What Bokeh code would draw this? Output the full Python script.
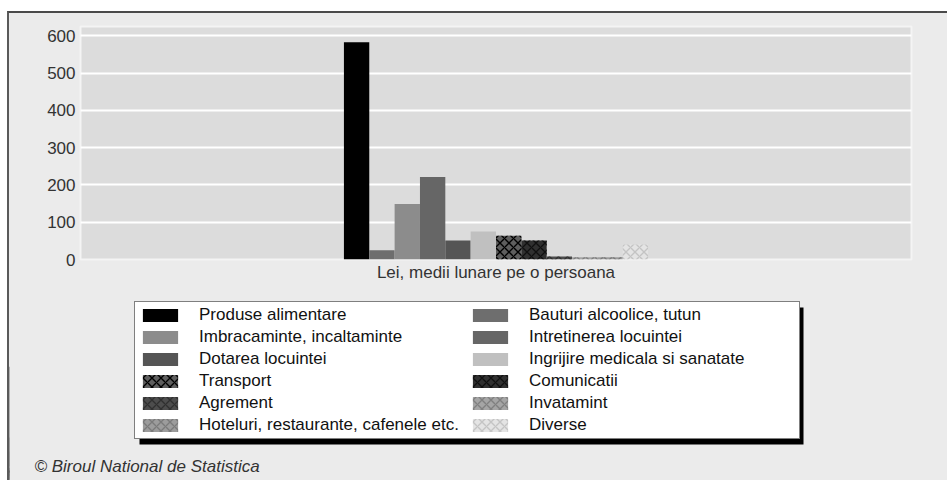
from bokeh.plotting import figure
from bokeh.layouts import column
from bokeh.models import (FactorRange, Range1d, Legend, LegendItem, BoxAnnotation,
                          Label, FixedTicker, ColumnDataSource)
from bokeh.transform import dodge
from bokeh.embed import file_html
from bokeh.resources import INLINE

# ---------------- data ----------------
category = ["Lei, medii lunare pe o persoana"]
series = ["Produse alimentare", "Bauturi alcoolice, tutun",
          "Imbracaminte, incaltaminte", "Intretinerea locuintei",
          "Dotarea locuintei", "Ingrijire medicala si sanatate",
          "Transport", "Comunicatii", "Agrement", "Invatamint",
          "Hoteluri, restaurante, cafenele etc.", "Diverse"]
values = [583, 25, 149, 221, 51, 75, 64, 51, 8, 6, 6, 40]
y_ticks = [0, 100, 200, 300, 400, 500, 600]
source_note = "© Biroul National de Statistica"

# ---------------- styles ----------------
fill_colors = ["#000000", "#6e6e6e", "#8c8c8c", "#666666", "#555555", "#c0c0c0",
               "#5e5e5e", "#303030", "#4d4d4d", "#a5a5a5", "#9c9c9c", "#e4e4e4"]
hatch_patterns = [None, None, None, None, None, None,
                  "diagonal_cross", "diagonal_cross", "diagonal_cross",
                  "diagonal_cross", "diagonal_cross", "diagonal_cross"]
hatch_colors = [None, None, None, None, None, None,
                "#000000", "#101010", "#303030", "#808080", "#7a7a7a", "#c4c4c4"]
FONT = "Liberation Sans"
FS = "17px"
BG = "#ebebeb"


def bar_style(i):
    kw = dict(fill_color=fill_colors[i], line_color=None)
    if hatch_patterns[i]:
        kw.update(hatch_pattern=hatch_patterns[i], hatch_color=hatch_colors[i],
                  hatch_scale=9, hatch_weight=1.4)
    return kw


# ---------------- chart ----------------
p = figure(width=938, height=272, output_backend="svg", toolbar_location=None,
           x_range=FactorRange(factors=category), y_range=Range1d(0, 625),
           min_border_left=71, min_border_right=36, min_border_top=13,
           min_border_bottom=26, frame_align=False)
p.border_fill_color = BG
p.background_fill_color = "#dcdcdc"
p.outline_line_color = "#f4f4f4"
p.outline_line_width = 2

p.xgrid.grid_line_color = None
p.ygrid.grid_line_color = "#ffffff"
p.ygrid.grid_line_width = 2

p.yaxis.ticker = FixedTicker(ticks=y_ticks)
for ax in (p.xaxis[0], p.yaxis[0]):
    ax.axis_line_color = None
    ax.major_tick_line_color = None
    ax.minor_tick_line_color = None
    ax.major_tick_out = 0
    ax.major_tick_in = 0
    ax.major_label_text_font = FONT
    ax.major_label_text_font_size = FS
    ax.major_label_text_color = "#333333"
p.yaxis.major_label_standoff = 5
p.xaxis.major_label_standoff = 3

n = len(series)
bar_w = 0.0305
for i, name in enumerate(series):
    src = ColumnDataSource(dict(cat=category, val=[values[i]]))
    p.vbar(x=dodge("cat", (i - (n - 1) / 2) * bar_w, range=p.x_range),
           top="val", width=bar_w, source=src, **bar_style(i))

# ---------------- legend panel ----------------
# the same series are bound here only to feed the legend swatches; the
# fixed x range keeps these bars far out of view
q = figure(width=938, height=195, output_backend="svg", toolbar_location=None,
           x_axis_type=None, y_axis_type=None, min_border=0, frame_align=False,
           x_range=Range1d(0, 1), y_range=Range1d(0, 1000))
q.border_fill_color = BG
q.background_fill_color = BG
q.outline_line_color = None

items = []
for i, name in enumerate(series):
    src = ColumnDataSource(dict(x=[-50.0], val=[values[i]]))
    r = q.vbar(x="x", top="val", bottom=0, width=bar_w, source=src, **bar_style(i))
    items.append(LegendItem(label=name, renderers=[r]))

LX, LY, LW, LH = 125, 41, 664, 137
shadow = BoxAnnotation(left=LX + 5, right=LX + LW + 5, top=LY + LH - 5, bottom=LY - 5,
                       left_units="screen", right_units="screen",
                       top_units="screen", bottom_units="screen",
                       fill_color="#000000", fill_alpha=1.0, line_color=None)
q.add_layout(shadow)

legend = Legend(items=items, location=(LX, LY), orientation="horizontal", ncols=2,
                glyph_width=44, glyph_height=16, label_standoff=17,
                label_width=267, label_height=20, spacing=2, padding=3, margin=0,
                label_text_font=FONT, label_text_font_size=FS,
                label_text_color="#111111",
                border_line_color="#000000", border_line_width=1,
                background_fill_color="#ffffff", background_fill_alpha=1.0)
q.add_layout(legend)

note = Label(x=25, y=14, x_units="screen", y_units="screen", text=source_note,
             text_font=FONT, text_font_size=FS, text_font_style="italic",
             text_color="#333333", text_baseline="middle")
q.add_layout(note)

page = column(p, q, spacing=0,
              styles={"margin-left": "7px", "margin-top": "11px",
                      "background-color": BG,
                      "border-left": "2px solid #5a5a5a",
                      "border-top": "2px solid #4a4a4a"})

open("out.html", "w").write(file_html(page, INLINE))
